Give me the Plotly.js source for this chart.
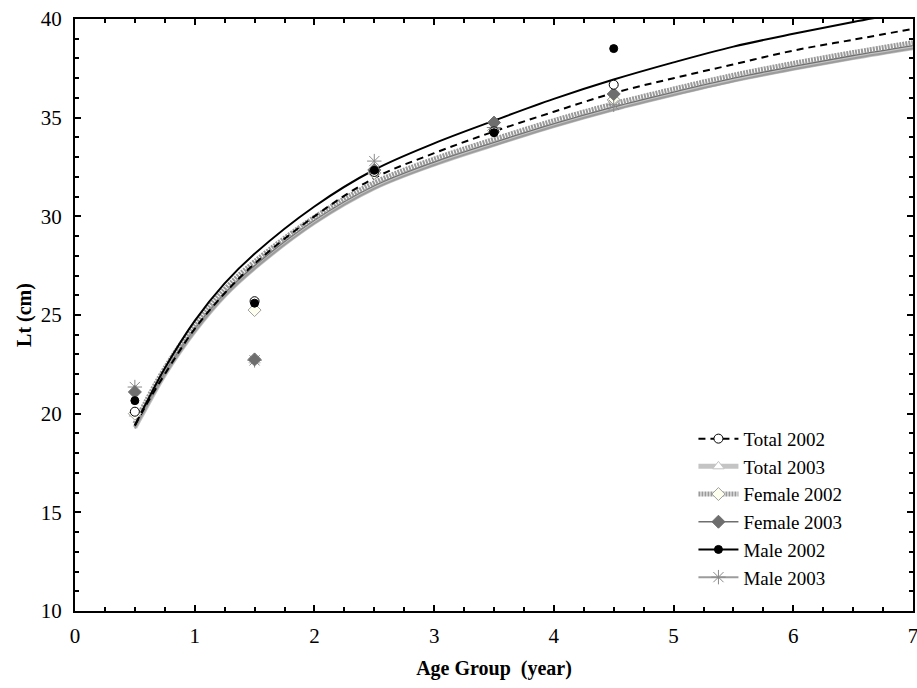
<!DOCTYPE html>
<html>
<head>
<meta charset="utf-8">
<script src="https://cdn.plot.ly/plotly-3.0.1.min.js"></script>
<style>html,body{margin:0;padding:0;background:#fff}#chart{width:917px;height:688px}</style>
</head>
<body>
<div id="chart"></div>
<script>
// Observed mean lengths by age group
const ageGroups = [0.5, 1.5, 2.5, 3.5, 4.5];
const total2002 = [20.1, 25.7, 32.25, 34.3, 36.67];
const total2003 = [20.0, 22.7, 32.3, 34.5, 35.9];
const female2002 = [20.0, 25.25, 32.2, 34.35, 35.9];
const female2003 = [21.1, 22.75, 32.35, 34.75, 36.2];
const male2002 = [20.66, 25.6, 32.33, 34.24, 38.5];
const male2003 = [21.35, 22.7, 32.8, 34.5, 35.65];

// Fitted growth curves
const curveAge = [0.5, 0.6, 0.75, 1.0, 1.25, 1.5, 2.0, 2.5, 3.0, 3.5, 4.0, 4.5, 5.0, 5.5, 6.0, 6.5, 7.0];
const fitTotal2002 = [19.4, 20.5, 22.0, 24.3, 26.1, 27.6, 30.0, 31.94, 33.2, 34.3, 35.3, 36.25, 37.0, 37.7, 38.4, 38.95, 39.5];
const fitTotal2003 = [19.3, 20.4, 22.0, 24.2, 26.0, 27.4, 29.7, 31.45, 32.65, 33.65, 34.6, 35.45, 36.2, 36.9, 37.5, 38.05, 38.55];
const fitFemale2002 = [19.5, 20.7, 22.3, 24.5, 26.3, 27.7, 29.95, 31.7, 32.9, 33.9, 34.85, 35.7, 36.45, 37.15, 37.75, 38.3, 38.8];
const fitFemale2003 = [19.35, 20.5, 22.1, 24.3, 26.1, 27.5, 29.8, 31.55, 32.75, 33.75, 34.7, 35.55, 36.3, 37.0, 37.6, 38.15, 38.65];
const fitMale2002 = [19.4, 20.6, 22.3, 24.7, 26.6, 28.1, 30.5, 32.36, 33.7, 34.85, 35.95, 36.93, 37.8, 38.6, 39.25, 39.85, 40.4];
const fitMale2003 = [19.25, 20.35, 21.95, 24.15, 25.95, 27.35, 29.65, 31.4, 32.6, 33.6, 34.55, 35.4, 36.15, 36.85, 37.45, 38.0, 38.5];

const seriesNames = ["Total 2002", "Total 2003", "Female 2002", "Female 2003", "Male 2002", "Male 2003"];

const serif = "Liberation Serif";

const styles = [
  {line: {color: "#000", width: 2, dash: "7px,5px"}, marker: {symbol: "circle", size: 9, color: "#fff", line: {color: "#000", width: 1}}},
  {line: {color: "#c4c4c4", width: 5}, marker: {symbol: "triangle-up", size: 10, color: "#fff", line: {color: "#c4c4c4", width: 1}}},
  {line: {color: "#9a9a9a", width: 5, dash: "2px,1px"}, marker: {symbol: "diamond", size: 10, color: "#fffff0", line: {color: "#a0a0a0", width: 1}}},
  {line: {color: "#6e6e6e", width: 1.3}, marker: {symbol: "diamond", size: 10, color: "#6e6e6e", line: {color: "#6e6e6e", width: 1}}},
  {line: {color: "#000", width: 2}, marker: {symbol: "circle", size: 8, color: "#000", line: {color: "#000", width: 1}}},
  {line: {color: "#9c9c9c", width: 2}, marker: {symbol: "asterisk-open", size: 12, color: "#8a8a8a", line: {color: "#8a8a8a", width: 1}}}
];

const fits = [fitTotal2002, fitTotal2003, fitFemale2002, fitFemale2003, fitMale2002, fitMale2003];
const obs = [total2002, total2003, female2002, female2003, male2002, male2003];

const traces = [];
const order = [1, 5, 3, 2, 0, 4];
order.forEach(i => {
  traces.push({
    x: curveAge, y: fits[i], mode: "lines", type: "scatter", line: Object.assign({shape: "spline", smoothing: 1}, styles[i].line),
    showlegend: false, hoverinfo: "skip"
  });
});
const markerOrder = [1, 2, 5, 3, 0, 4];
markerOrder.forEach(i => {
  traces.push({
    x: ageGroups, y: obs[i], mode: "markers", type: "scatter", marker: styles[i].marker,
    showlegend: false, cliponaxis: false
  });
});
[0, 1, 2, 3, 4, 5].forEach(i => {
  traces.push({
    x: [null], y: [null], mode: "lines+markers", type: "scatter", name: seriesNames[i],
    line: styles[i].line, marker: styles[i].marker, showlegend: true
  });
});

const layout = {
  width: 917, height: 688,
  margin: {l: 75, r: 4, t: 19, b: 77},
  paper_bgcolor: "#fff", plot_bgcolor: "#fff",
  font: {family: serif, size: 20, color: "#000"},
  showlegend: true,
  legend: {x: 0.738, y: 0.323, xanchor: "left", yanchor: "top", bgcolor: "rgba(0,0,0,0)", font: {family: serif, size: 19}, tracegroupgap: 0, itemwidth: 40},
  xaxis: {
    range: [0, 7], dtick: 1, tick0: 0, showgrid: false, zeroline: false,
    showline: true, linecolor: "#000", linewidth: 2, mirror: "ticks",
    ticks: "inside", ticklen: 6, tickwidth: 2, tickcolor: "#000",
    minor: {dtick: 0.25, ticks: "inside", ticklen: 4, tickwidth: 2, tickcolor: "#000"},
    tickfont: {family: serif, size: 21}, ticklabeloverflow: "allow", ticklabelstandoff: 5,
    title: {text: "<b>Age Group  (year)</b>", font: {family: serif, size: 20}, standoff: 14}
  },
  yaxis: {
    range: [10, 40], dtick: 5, tick0: 10, showgrid: false, zeroline: false,
    showline: true, linecolor: "#000", linewidth: 2, mirror: "ticks",
    ticks: "inside", ticklen: 6, tickwidth: 2, tickcolor: "#000",
    minor: {dtick: 1, ticks: "inside", ticklen: 4, tickwidth: 2, tickcolor: "#000"},
    tickfont: {family: serif, size: 21}, ticklabeloverflow: "allow", ticklabelstandoff: 7,
    title: {text: "<b>Lt (cm)</b>", font: {family: serif, size: 20}, standoff: 4}
  }
};

Plotly.newPlot("chart", traces, layout, {displayModeBar: false, staticPlot: true});
</script>
</body>
</html>
